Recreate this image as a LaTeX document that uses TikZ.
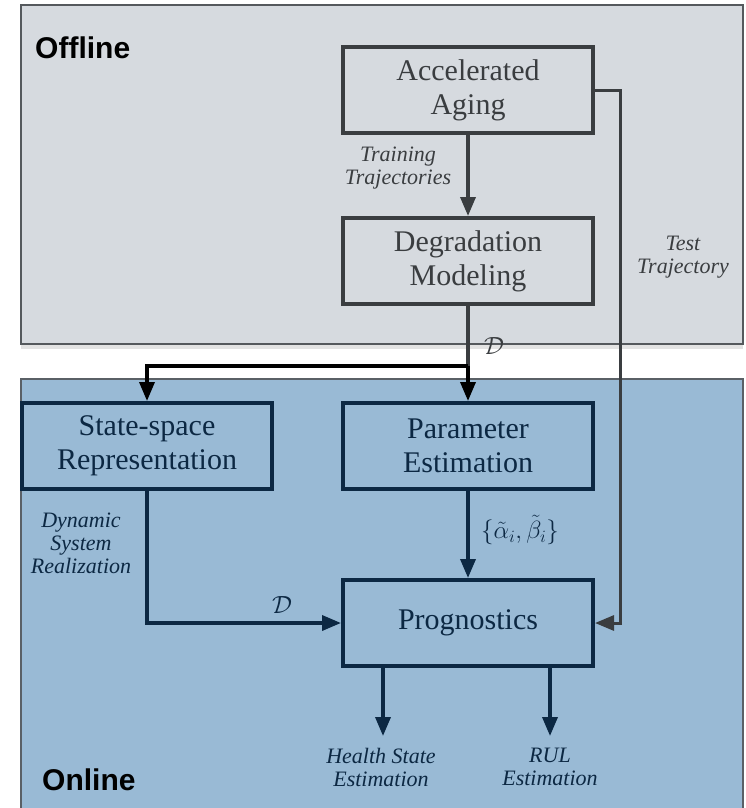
\documentclass[tikz,border=0pt]{standalone}
\usepackage{fontspec}
\setmainfont{Liberation Serif}
\newfontfamily\labelsans{Liberation Sans}
\usetikzlibrary{arrows.meta,shadows}
\definecolor{offfill}{HTML}{D6DADF}
\definecolor{offline}{HTML}{3A3D40}
\definecolor{offedge}{HTML}{55595D}
\definecolor{onfill}{HTML}{99BAD5}
\definecolor{navy}{HTML}{0C2843}
\definecolor{onedge}{HTML}{5A6066}
\tikzset{
  panel/.style={line width=1.6pt},
  offbox/.style={draw=offline, line width=4pt, minimum width=250pt, minimum height=86pt,
    inner sep=0pt, align=center, text=offline, font=\fontsize{30}{34}\selectfont},
  onbox/.style={offbox, draw=navy, text=navy},
  tip/.style={-{Triangle[length=19pt,width=15pt]}},
  offarrow/.style={draw=offline, line width=3.5pt, tip},
  onarrow/.style={draw=navy, line width=3.5pt, tip},
  plainline/.style={line width=3.5pt},
  note/.style={align=center, font=\fontsize{22}{23}\selectfont\itshape, inner sep=0pt},
  mathnote/.style={inner sep=0pt, font=\fontsize{25}{26}\selectfont},
  paneltitle/.style={font=\labelsans\bfseries\fontsize{30}{32}\selectfont, inner sep=0pt, anchor=west}
}
\begin{document}
\begin{tikzpicture}[x=1pt,y=-1pt]
\useasboundingbox (0,0) rectangle (745,808);
% panels
\fill[white] (0,0) rectangle (745,808);
\path[panel, draw=offedge, fill=offfill, drop shadow={opacity=0.22, shadow xshift=0pt, shadow yshift=-5pt}]
  (21,5) rectangle (743,344);
\path[panel, draw=onedge, fill=onfill] (21,379) rectangle (743,812);
\node[paneltitle] (offtitle) at (35,48) {Offline};
\node[paneltitle] (ontitle) at (42,780) {Online};

% offline blocks
\node[offbox] (acc) at (468,90) {Accelerated\\Aging};
\node[offbox] (deg) at (468,261) {Degradation\\Modeling};

% online blocks
\node[onbox] (ss) at (147,446) {State-space\\Representation};
\node[onbox] (par) at (468,446) {Parameter\\Estimation};
\node[onbox] (prog) at (468,623) {Prognostics};

% routing points
\coordinate (split) at (468,366);
\coordinate (testx) at (620,0);
\coordinate (hse) at (383,736);
\coordinate (rul) at (550,736);

% connectors
\draw[offarrow] (acc.south) -- (deg.north);
\draw[plainline, draw=offline] (deg.south) -- (split);
\draw[onarrow, draw=black] (split) -- (par.north);
\draw[onarrow, draw=black] (split) -| (ss.north);
\draw[onarrow, draw=offline, line width=3pt] (acc.east |- 0,90) -- (testx |- 0,90) -- (testx |- prog.east) -- (prog.east);
\draw[onarrow] (par.south) -- (prog.north);
\draw[onarrow] (ss.south) |- (prog.west);
\draw[onarrow] (prog.south -| hse) -- (hse);
\draw[onarrow] (prog.south -| rul) -- (rul);

% labels
\node[note, text=offline] (trainlbl) at (398,168) {Training\\Trajectories};
\node[note, text=offline] (testlbl) at (683,257) {Test\\Trajectory};
\node[mathnote, text=offline] (dtop) at (494,346) {$\mathcal{D}$};
\node[note, text=navy] (dynlbl) at (81,543) {Dynamic\\System\\Realization};
\node[mathnote, text=navy] (dleft) at (282,605) {$\mathcal{D}$};
\node[mathnote, text=navy] (parlbl) at (520,530) {$\{\tilde{\alpha}_i,\tilde{\beta}_i\}$};
\node[note, text=navy] (hselbl) at (381,767) {Health State\\Estimation};
\node[note, text=navy] (rullbl) at (550,767) {RUL\\Estimation};
\end{tikzpicture}
\end{document}
